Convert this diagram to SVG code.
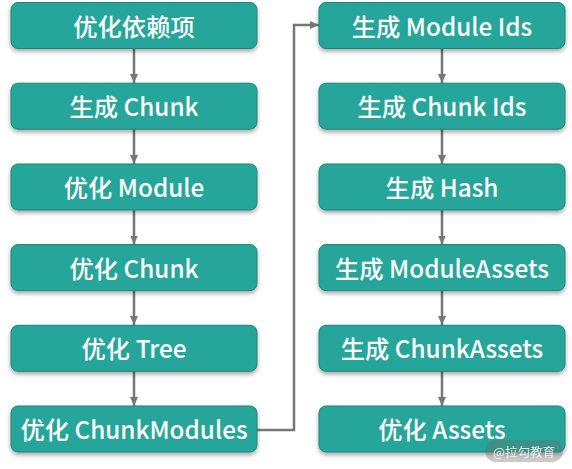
<svg xmlns="http://www.w3.org/2000/svg" width="572" height="469" viewBox="0 0 572 469">
<defs>
<filter id="sh" x="-10%" y="-20%" width="120%" height="160%">
<feDropShadow dx="0" dy="2.5" stdDeviation="2" flood-color="#000" flood-opacity="0.35"/>
</filter>
<marker id="ah" markerWidth="10" markerHeight="8" refX="9" refY="4" orient="auto" markerUnits="userSpaceOnUse">
<path d="M0,0 L9,4 L0,8 Z" fill="#777"/>
</marker>
<style>
.box{fill:#26a69a;stroke:#1d857b;stroke-width:1;filter:url(#sh)}
.t{fill:#fff;font-family:"Noto Sans CJK SC","Noto Sans",sans-serif;font-size:24.3px;font-weight:500;text-anchor:middle;dominant-baseline:central}
.c{fill:none;stroke:#777;stroke-width:2.5;marker-end:url(#ah)}
</style>
</defs>
<g id="connectors">
<line class="c" x1="134" y1="48" x2="134" y2="83"/>
<line class="c" x1="134" y1="129" x2="134" y2="164"/>
<line class="c" x1="134" y1="210" x2="134" y2="244.5"/>
<line class="c" x1="134" y1="291" x2="134" y2="325"/>
<line class="c" x1="134" y1="371" x2="134" y2="406"/>
<polyline class="c" points="257,430 294,430 294,25 319,25"/>
<line class="c" x1="442" y1="48" x2="442" y2="83"/>
<line class="c" x1="442" y1="129" x2="442" y2="164"/>
<line class="c" x1="442" y1="210" x2="442" y2="244.5"/>
<line class="c" x1="442" y1="291" x2="442" y2="325"/>
<line class="c" x1="442" y1="371" x2="442" y2="406"/>
</g>
<g id="n1"><rect class="box" x="11" y="2.5" width="246" height="46" rx="7"/><text class="t" x="134" y="25">优化依赖项</text></g>
<g id="n2"><rect class="box" x="11" y="83.2" width="246" height="46" rx="7"/><text class="t" x="134" y="105.7">生成 Chunk</text></g>
<g id="n3"><rect class="box" x="11" y="164" width="246" height="46" rx="7"/><text class="t" x="134" y="186.5">优化 Module</text></g>
<g id="n4"><rect class="box" x="11" y="244.6" width="246" height="46" rx="7"/><text class="t" x="134" y="267">优化 Chunk</text></g>
<g id="n5"><rect class="box" x="11" y="325.3" width="246" height="46" rx="7"/><text class="t" x="134" y="347.8">优化 Tree</text></g>
<g id="n6"><rect class="box" x="11" y="406" width="246" height="46" rx="7"/><text class="t" x="134" y="428.5">优化 ChunkModules</text></g>
<g id="n7"><rect class="box" x="319" y="2.5" width="246" height="46" rx="7"/><text class="t" x="442" y="25">生成 Module Ids</text></g>
<g id="n8"><rect class="box" x="319" y="83.2" width="246" height="46" rx="7"/><text class="t" x="442" y="105.7">生成 Chunk Ids</text></g>
<g id="n9"><rect class="box" x="319" y="164" width="246" height="46" rx="7"/><text class="t" x="442" y="186.5">生成 Hash</text></g>
<g id="n10"><rect class="box" x="319" y="244.6" width="246" height="46" rx="7"/><text class="t" x="442" y="267">生成 ModuleAssets</text></g>
<g id="n11"><rect class="box" x="319" y="325.3" width="246" height="46" rx="7"/><text class="t" x="442" y="347.8">生成 ChunkAssets</text></g>
<g id="n12"><rect class="box" x="319" y="406" width="246" height="46" rx="7"/><text class="t" x="442" y="428.5">优化 Assets</text></g>
<g id="watermark">
<rect x="485" y="440" width="78" height="22" rx="11" fill="#666" fill-opacity="0.35"/>
<text x="524" y="451" fill="#fff" fill-opacity="0.85" font-family="Noto Sans CJK SC,sans-serif" font-size="12.5" text-anchor="middle" dominant-baseline="central">@拉勾教育</text>
</g>
</svg>
